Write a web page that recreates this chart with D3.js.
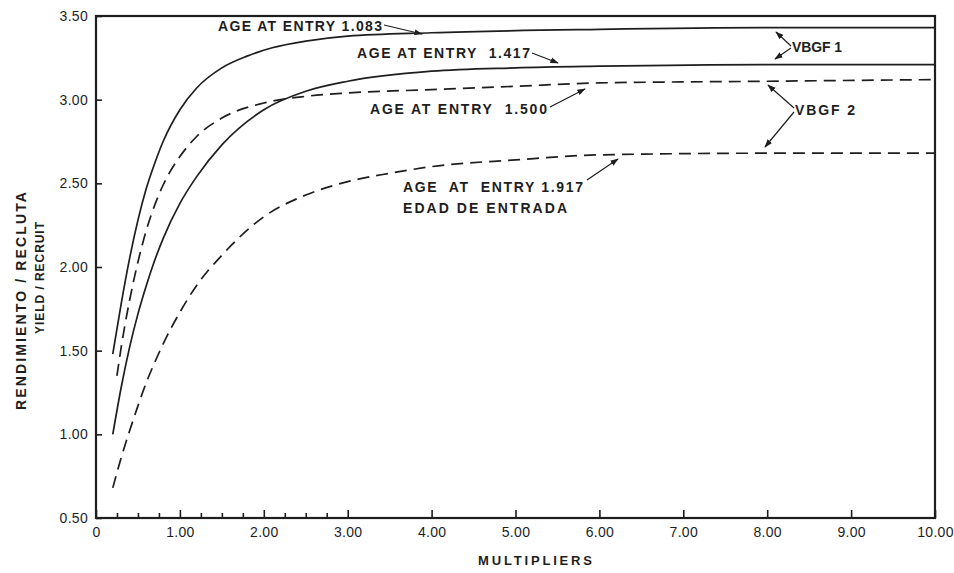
<!DOCTYPE html>
<html>
<head>
<meta charset="utf-8">
<script src="https://cdn.jsdelivr.net/npm/d3@7"></script>
<style>
    body { margin: 0; background: #fff; }
    text { font-family: "Liberation Sans", Arial, sans-serif; fill: #1e1e1e; }
</style>
</head>
<body>
<div id="chart"></div>
<script>
// Yield per recruit vs. multiplier
// [multiplier, yield/recruit]
const entry1083 = [[0.2, 1.48], [0.3, 1.78], [0.4, 2.05], [0.5, 2.28], [0.6, 2.47], [0.7, 2.62], [0.8, 2.75], [1.0, 2.94], [1.2, 3.07], [1.5, 3.19], [1.8, 3.26], [2.1, 3.31], [2.5, 3.35], [3.0, 3.38], [4.0, 3.40], [6.0, 3.42], [8.0, 3.43], [10.0, 3.43]];
const entry1417 = [[0.2, 1.0], [0.3, 1.28], [0.4, 1.52], [0.5, 1.72], [0.6, 1.89], [0.7, 2.04], [0.8, 2.17], [1.0, 2.38], [1.2, 2.54], [1.5, 2.73], [2.0, 2.94], [2.5, 3.05], [3.0, 3.11], [4.0, 3.17], [5.0, 3.19], [6.0, 3.2], [8.0, 3.21], [10.0, 3.21]];
const entry1500 = [[0.25, 1.35], [0.3, 1.52], [0.4, 1.8], [0.5, 2.03], [0.6, 2.22], [0.7, 2.37], [0.8, 2.49], [1.0, 2.66], [1.2, 2.78], [1.5, 2.89], [2.0, 2.98], [2.5, 3.02], [3.0, 3.04], [4.0, 3.06], [5.0, 3.08], [6.0, 3.1], [8.0, 3.11], [10.0, 3.12]];
const entry1917 = [[0.2, 0.68], [0.3, 0.86], [0.4, 1.02], [0.5, 1.17], [0.6, 1.31], [0.7, 1.43], [0.8, 1.54], [1.0, 1.73], [1.2, 1.89], [1.5, 2.07], [2.0, 2.3], [2.5, 2.43], [3.0, 2.51], [3.5, 2.56], [4.0, 2.6], [5.0, 2.64], [6.0, 2.67], [8.0, 2.68], [10.0, 2.68]];

// Axis ticks
const xTicks = [0, 1, 2, 3, 4, 5, 6, 7, 8, 9, 10];
const xTickLabels = ["0", "1.00", "2.00", "3.00", "4.00", "5.00", "6.00", "7.00", "8.00", "9.00", "10.00"];
const xMinorTicks = [0.25, 0.5, 0.75, 1.25, 1.5, 1.75, 2.25, 2.5, 2.75];
const yTicks = [0.5, 1.0, 1.5, 2.0, 2.5, 3.0, 3.5];
const yTickLabels = ["0.50", "1.00", "1.50", "2.00", "2.50", "3.00", "3.50"];

class yieldChart {

    constructor() {
        this.series = [
            { values: entry1083, dashed: false },
            { values: entry1417, dashed: false },
            { values: entry1500, dashed: true },
            { values: entry1917, dashed: true }
        ];
    }

    drawChart() {
        // Canvas Size
        const margin = { top: 16, right: 19, bottom: 55, left: 96 },
            width = 954 - margin.left - margin.right,
            height = 573 - margin.top - margin.bottom;

        const root = d3.select("#chart")
            .append("svg")
            .attr("width", width + margin.left + margin.right)
            .attr("height", height + margin.top + margin.bottom);

        // arrow head for the leaders
        root.append("defs").append("marker")
            .attr("id", "arrow")
            .attr("viewBox", "0 0 10 10")
            .attr("refX", 9).attr("refY", 5)
            .attr("markerWidth", 7).attr("markerHeight", 7)
            .attr("orient", "auto")
            .append("path")
            .attr("d", "M0,1.5 L10,5 L0,8.5 Z")
            .attr("fill", "#1e1e1e");

        const svg = root.append("g")
            .attr("transform", `translate(${margin.left},${margin.top})`);

        // Define Scales
        const xScale = d3.scaleLinear().domain([0, 10]).range([0, width]);
        const yScale = d3.scaleLinear().domain([0.5, 3.5]).range([height, 0]);

        // X axis, ticks pointing inward
        const xAxis = svg.append("g")
            .attr("transform", `translate(0,${height})`)
            .call(d3.axisBottom(xScale)
                .tickValues(xTicks)
                .tickSizeInner(-8).tickSizeOuter(0)
                .tickPadding(9)
                .tickFormat((d, i) => xTickLabels[i]));

        const xMinor = svg.append("g")
            .attr("transform", `translate(0,${height})`)
            .call(d3.axisBottom(xScale)
                .tickValues(xMinorTicks)
                .tickSizeInner(-5).tickSizeOuter(0)
                .tickFormat(""));

        // Y axis
        const yAxis = svg.append("g")
            .call(d3.axisLeft(yScale)
                .tickValues(yTicks)
                .tickSizeInner(-6).tickSizeOuter(0)
                .tickPadding(8)
                .tickFormat((d, i) => yTickLabels[i]));

        [xAxis, xMinor, yAxis].forEach(g => {
            g.select(".domain").remove();
            g.selectAll("line").attr("stroke", "#1e1e1e").attr("stroke-width", 1.6);
            g.selectAll("text")
                .attr("font-family", "Liberation Sans, Arial, sans-serif")
                .attr("font-size", 14)
                .attr("letter-spacing", 0.3)
                .attr("fill", "#1e1e1e");
        });

        // Frame
        svg.append("rect")
            .attr("x", 0).attr("y", 0)
            .attr("width", width).attr("height", height)
            .attr("fill", "none")
            .attr("stroke", "#1e1e1e")
            .attr("stroke-width", 2.2);

        // Draw lines
        const line = d3.line()
            .curve(d3.curveMonotoneX)
            .x(d => xScale(d[0]))
            .y(d => yScale(d[1]));

        svg.selectAll(".curve")
            .data(this.series)
            .join("path")
            .attr("class", "curve")
            .attr("fill", "none")
            .attr("stroke", "#1e1e1e")
            .attr("stroke-width", 1.7)
            .attr("stroke-dasharray", d => d.dashed ? "12,7" : null)
            .attr("d", d => line(d.values));

        // Axis titles
        root.append("text")
            .attr("x", 535).attr("y", 565)
            .attr("text-anchor", "middle")
            .attr("font-size", 13).attr("font-weight", "bold")
            .attr("textLength", 114).attr("lengthAdjust", "spacing")
            .text("MULTIPLIERS");

        root.append("text")
            .attr("transform", "translate(26,301) rotate(-90)")
            .attr("text-anchor", "middle")
            .attr("font-size", 14).attr("font-weight", "bold")
            .attr("textLength", 218).attr("lengthAdjust", "spacing")
            .text("RENDIMIENTO / RECLUTA");

        root.append("text")
            .attr("transform", "translate(44,278) rotate(-90)")
            .attr("text-anchor", "middle")
            .attr("font-size", 12).attr("font-weight", "bold")
            .attr("textLength", 112).attr("lengthAdjust", "spacing")
            .text("YIELD / RECRUIT");

        // Annotations
        const labels = [
            { t: "AGE AT ENTRY 1.083", x: 218, y: 31, w: 164 },
            { t: "AGE AT ENTRY  1.417", x: 357, y: 58, w: 173 },
            { t: "AGE AT ENTRY  1.500", x: 370, y: 114, w: 177 },
            { t: "AGE  AT  ENTRY 1.917", x: 403, y: 192, w: 180 },
            { t: "EDAD DE ENTRADA", x: 403, y: 213, w: 164 },
            { t: "VBGF 1", x: 792, y: 52, w: 50 },
            { t: "VBGF 2", x: 795, y: 115, w: 60 }
        ];
        root.selectAll(".note")
            .data(labels)
            .join("text")
            .attr("class", "note")
            .attr("x", d => d.x).attr("y", d => d.y)
            .attr("font-size", 14).attr("font-weight", "bold")
            .attr("textLength", d => d.w).attr("lengthAdjust", "spacing")
            .style("white-space", "pre")
            .text(d => d.t);

        const leaders = [
            [384, 25, 422, 34],
            [532, 53, 558, 63],
            [550, 107, 585, 89],
            [587, 180, 618, 159],
            [791, 46, 776, 32],
            [791, 48, 775, 59],
            [794, 108, 768, 85],
            [794, 112, 765, 147]
        ];
        root.selectAll(".leader")
            .data(leaders)
            .join("line")
            .attr("class", "leader")
            .attr("x1", d => d[0]).attr("y1", d => d[1])
            .attr("x2", d => d[2]).attr("y2", d => d[3])
            .attr("stroke", "#1e1e1e")
            .attr("stroke-width", 1.2)
            .attr("marker-end", "url(#arrow)");
    }
}

const chart = new yieldChart();
chart.drawChart();
</script>
</body>
</html>
